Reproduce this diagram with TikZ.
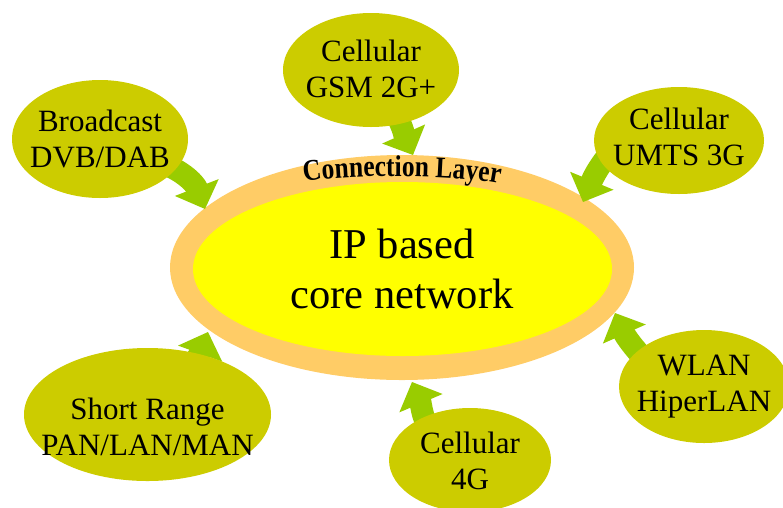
\documentclass[tikz,border=0pt]{standalone}
\usepackage{fontspec}
\setmainfont{Liberation Serif}
\newfontfamily\clfamily{Liberation Serif}[FakeStretch=0.85]
\usetikzlibrary{shapes.geometric,decorations.text,decorations.markings}
\definecolor{ringorange}{HTML}{FFCC66}
\definecolor{coreyellow}{HTML}{FFFF00}
\definecolor{netolive}{HTML}{CCCC00}
\definecolor{arrowgreen}{HTML}{99CC00}
\newcommand\myclfont{\clfamily\bfseries\fontsize{30}{30}\selectfont}
\tikzset{
  netshape/.style={ellipse, fill=netolive, inner sep=0pt, outer sep=0pt},
  nettext/.style={align=center, inner sep=0pt, font=\fontsize{31}{36}\selectfont},
  curvearrow/.style={draw=arrowgreen, line width=22pt, shorten >=21pt,
    postaction={decorate, decoration={markings, mark=at position 1 with
      {\fill[arrowgreen] (0,0) -- (-23,23.5) -- (-23,-23.5) -- cycle;}}}},
}
\begin{document}
\begin{tikzpicture}[x=1pt,y=-1pt]
\useasboundingbox (0,0) rectangle (783,507);
% core
\node[ellipse, fill=ringorange, inner sep=0pt, outer sep=0pt,
  minimum width=464pt, minimum height=225pt] (ring) at (402,267.5) {};
\node[ellipse, fill=coreyellow, inner sep=0pt, outer sep=0pt,
  minimum width=419pt, minimum height=174pt] (coreshape) at (402.5,269) {};
\node[align=center, inner sep=0pt, font=\fontsize{42.5}{50}\selectfont] (core) at (402,268.5) {IP based\\core network};
\coordinate (cla) at (296,184);
\coordinate (clb) at (508,186);
\path[decorate, decoration={text along path, text align=center,
  text={|\myclfont|Connection Layer}}] (cla) .. controls (331,173) and (471,174) .. (clb);
% arrow ends
\coordinate (s1) at (152,160); \coordinate (t1) at (205,209);
\coordinate (s2) at (390,105); \coordinate (t2) at (413,155);
\coordinate (s3) at (621,141); \coordinate (t3) at (583,202);
\coordinate (s4) at (178,383); \coordinate (t4) at (208,332);
\coordinate (s5) at (435,439); \coordinate (t5) at (412,382);
\coordinate (s6) at (652,367); \coordinate (t6) at (615,313);
\draw[curvearrow] (s1) to[out=-15,in=111] (t1);
\draw[curvearrow] (s2) to[out=-55,in=114] (t2);
\draw[curvearrow] (s3) to[out=225,in=67.5] (t3);
\draw[curvearrow] (s4) to[out=50,in=-110] (t4);
\draw[curvearrow] (s5) to[out=125,in=-67] (t5);
\draw[curvearrow] (s6) to[out=135,in=-66] (t6);
% outer networks
\node[netshape, minimum width=176pt, minimum height=118pt] (bc) at (100,139) {};
\node[nettext] (bctext) at (100,139) {Broadcast\\DVB/DAB};
\node[netshape, minimum width=176pt, minimum height=114pt] (gsm) at (371,70) {};
\node[nettext] (gsmtext) at (371,69) {Cellular\\GSM 2G+};
\node[netshape, minimum width=170pt, minimum height=107pt] (umts) at (679,140.5) {};
\node[nettext] (umtstext) at (679,136.5) {Cellular\\UMTS 3G};
\node[netshape, minimum width=247pt, minimum height=133pt] (sr) at (147.5,414.5) {};
\node[nettext] (srtext) at (147.5,427) {Short Range\\PAN/LAN/MAN};
\node[netshape, minimum width=162pt, minimum height=104pt] (g4) at (470,460) {};
\node[nettext] (g4text) at (470,460.5) {Cellular\\4G};
\node[netshape, minimum width=170pt, minimum height=113pt] (wlan) at (704,386.5) {};
\node[nettext] (wlantext) at (704,387) {WLAN\\HiperLAN};
\end{tikzpicture}
\end{document}
